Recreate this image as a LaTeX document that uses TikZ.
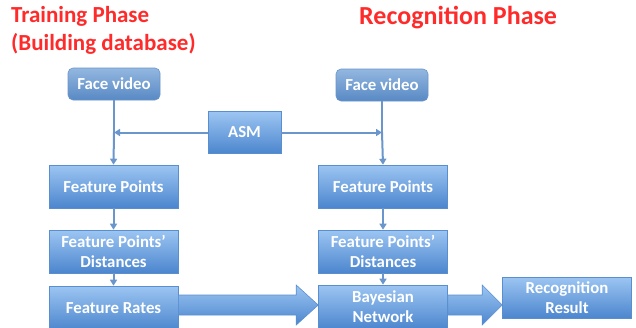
\documentclass[tikz,border=0pt]{standalone}
\usepackage{fontspec}
\setmainfont{Carlito}
\usetikzlibrary{arrows.meta,shapes.arrows}
\definecolor{titlered}{HTML}{FF2A2A}
\definecolor{linec}{HTML}{6A96CC}
\definecolor{btop}{HTML}{9CC5F2}
\definecolor{bbot}{HTML}{4C86CE}
\definecolor{bedge}{HTML}{5A8FCF}
\definecolor{ftop}{HTML}{93B7E0}
\definecolor{fbot}{HTML}{5889C4}
\tikzset{
  box/.style={draw=bedge, line width=0.6pt, top color=btop, bottom color=bbot, text=white,
    font=\fontsize{16.8}{20}\selectfont\bfseries, align=center, minimum width=129pt, minimum height=43pt, inner sep=0pt},
  facebox/.style={draw=fbot!90, line width=0.6pt, rounded corners=5pt, top color=ftop, bottom color=fbot, text=white,
    font=\fontsize{16.8}{20}\selectfont\bfseries, minimum width=92pt, minimum height=32pt, inner sep=0pt},
  conn/.style={draw=linec, line width=2pt, -{Triangle[length=6pt,width=7pt]}},
  title/.style={text=titlered, font=\fontsize{23}{28}\selectfont\bfseries, anchor=north west, align=left, inner sep=0pt},
  bigarrow/.style={draw=bedge, line width=0.6pt, top color=btop, bottom color=bbot}
}
\begin{document}
\begin{tikzpicture}[x=1pt,y=-1pt]
\useasboundingbox (0,0) rectangle (636,327);
\clip (0,0) rectangle (636,327);
\node[title] (t1) at (11,6) {Training Phase\\(Building database)};
\node[title, font=\fontsize{26}{30}\selectfont\bfseries] (t2) at (359,6) {Recognition Phase};
% boxes
\node[facebox] (fv1) at (114,84) {Face video};
\node[facebox] (fv2) at (382,85) {Face video};
\node[box, minimum width=73pt, minimum height=42pt] (asm) at (244.5,132.5) {ASM};
\node[box] (fp1) at (113.5,186.5) {Feature Points};
\node[box] (fp2) at (383,186.5) {Feature Points};
\node[box] (fd1) at (113.5,251.5) {Feature Points'\\Distances};
\node[box] (fd2) at (383,251.5) {Feature Points'\\Distances};
\node[box, minimum height=44pt] (fr) at (113.5,308) {Feature Rates};
\node[box, minimum height=44pt] (bn) at (383,307) {Bayesian\\Network};
\node[box, minimum height=41pt] (rr) at (567,297.5) {Recognition\\Result};
% junction points
\coordinate (j1) at (fv1.south |- asm.west);
\coordinate (j2) at (fv2.south |- asm.east);
\draw[draw=linec, line width=2pt] (fv1.south) -- (j1);
\draw[conn] (j1) -- (fp1.north);
\draw[draw=linec, line width=2pt] (fv2.south) -- (j2);
\draw[conn] (j2) -- (fp2.north);
\draw[conn] (asm.west) -- (j1);
\draw[conn] (asm.east) -- (j2);
\draw[conn] (fp1.south) -- (fd1.north);
\draw[conn] (fd1.south) -- (fr.north);
\draw[conn] (fp2.south) -- (fd2.north);
\draw[conn] (fd2.south) -- (bn.north);
% block arrows
\path (fr.east |- 0,305) coordinate (a1s);
\path (bn.west |- 0,305) coordinate (a1e);
\draw[bigarrow] ([yshift=-10]a1s) -- ([xshift=-22,yshift=-10]a1e) -- ([xshift=-22,yshift=-20]a1e) -- (a1e)
  -- ([xshift=-22,yshift=20]a1e) -- ([xshift=-22,yshift=10]a1e) -- ([yshift=10]a1s) -- cycle;
\path (bn.east |- 0,305) coordinate (a2s);
\path (rr.west |- 0,305) coordinate (a2e);
\draw[bigarrow] ([yshift=-10]a2s) -- ([xshift=-20,yshift=-10]a2e) -- ([xshift=-20,yshift=-20]a2e) -- (a2e)
  -- ([xshift=-20,yshift=20]a2e) -- ([xshift=-20,yshift=10]a2e) -- ([yshift=10]a2s) -- cycle;
\end{tikzpicture}
\end{document}
